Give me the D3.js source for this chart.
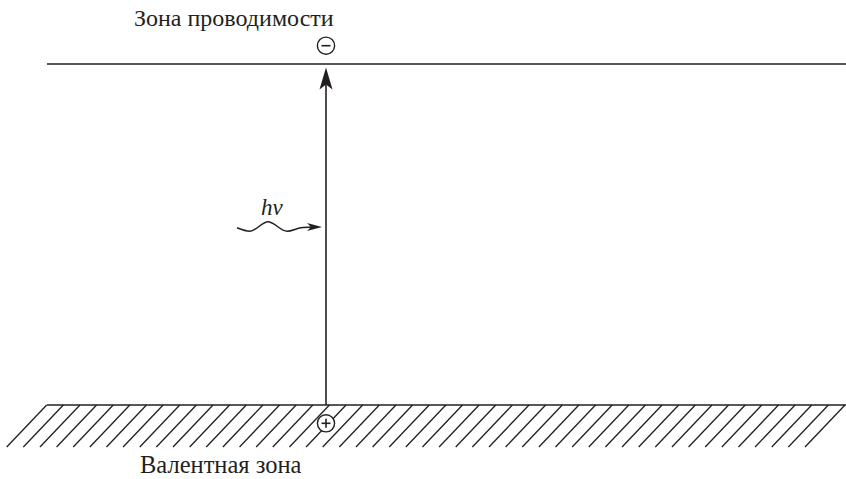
<!DOCTYPE html>
<html>
<head>
<meta charset="utf-8">
<script src="https://cdn.jsdelivr.net/npm/d3@7"></script>
<style>
  html, body { margin: 0; padding: 0; background: #fff; }
  svg { display: block; }
</style>
</head>
<body>
<svg id="chart" width="846" height="479"></svg>
<script>
// ---- data ----
const bandNames = ["Зона проводимости", "Валентная зона"];
const bandLevels = [1, 0];           // energy: conduction = 1, valence = 0
const carriers = ["−", "+"];         // electron at top, hole at bottom
const photonLabel = ["h", "ν"];
const hatchCount = 49;
// photon wave control points (x in diagram units, energy units)
const waveX = [237, 250, 268, 287, 301, 312];
const waveY = [0.5198, 0.5095, 0.5374, 0.5095, 0.5198, 0.5220];

const svg = d3.select("#chart");
const ink = "#231f20";
const serif = "'Liberation Serif', 'Times New Roman', Tinos, serif";

const x = d3.scaleLinear().domain([0, 846]).range([0, 846]);
const y = d3.scaleLinear().domain([0, 1]).range([405, 64]);

const xStart = 47, xEnd = 846, xTransition = 326;

// band lines
svg.selectAll("line.band").data(bandLevels).join("line")
  .attr("class", "band")
  .attr("x1", x(xStart)).attr("x2", x(xEnd))
  .attr("y1", d => y(d)).attr("y2", d => y(d))
  .attr("stroke", ink).attr("stroke-width", 1.5);

// hatching under valence band
const hatchStep = (845 - 46.7) / (hatchCount - 1);
const hatch = d3.range(hatchCount).map(i => 46.7 + i * hatchStep);
svg.selectAll("line.hatch").data(hatch).join("line")
  .attr("class", "hatch")
  .attr("x1", d => x(d)).attr("y1", y(0))
  .attr("x2", d => x(d - 40)).attr("y2", y(0) + 42)
  .attr("stroke", ink).attr("stroke-width", 1.3);

// vertical transition arrow
const tipY = y(1) + 3.5;
svg.append("line")
  .attr("x1", x(xTransition)).attr("x2", x(xTransition))
  .attr("y1", y(0)).attr("y2", tipY + 16)
  .attr("stroke", ink).attr("stroke-width", 1.6);
svg.append("path")
  .attr("d", `M${x(xTransition)},${tipY} L${x(xTransition) + 6.5},${tipY + 22} L${x(xTransition)},${tipY + 17} L${x(xTransition) - 6.5},${tipY + 22} Z`)
  .attr("fill", ink);

// carriers
const carrierY = [y(1) - 18.3, y(0) + 18.3];
carriers.forEach((c, i) => {
  const g = svg.append("g").attr("transform", `translate(${x(xTransition)},${carrierY[i]})`);
  g.append("circle").attr("r", 8.6).attr("fill", "#fff").attr("stroke", ink).attr("stroke-width", 1.4);
  g.append("line").attr("x1", -4.5).attr("x2", 4.5).attr("y1", 0).attr("y2", 0)
    .attr("stroke", ink).attr("stroke-width", 1.6);
  if (c === "+") {
    g.append("line").attr("x1", 0).attr("x2", 0).attr("y1", -4.5).attr("y2", 4.5)
      .attr("stroke", ink).attr("stroke-width", 1.6);
  }
});

// photon wave
const wavePts = waveX.map((d, i) => [x(d), y(waveY[i])]);
svg.append("path")
  .attr("d", d3.line().curve(d3.curveMonotoneX)(wavePts))
  .attr("fill", "none").attr("stroke", ink).attr("stroke-width", 1.5);
const wTipX = x(322), wY = y(waveY[waveY.length - 1]);
svg.append("path")
  .attr("d", `M${wTipX},${wY} L${wTipX - 15},${wY - 4} L${wTipX - 11},${wY} L${wTipX - 15},${wY + 4} Z`)
  .attr("fill", ink);

// photon label
const lbl = svg.append("text").attr("x", x(261)).attr("y", 215)
  .attr("font-family", serif).attr("fill", ink)
  .attr("font-size", 23).attr("font-style", "italic");
lbl.append("tspan").text(photonLabel[0]);
lbl.append("tspan").text(photonLabel[1]);

// band labels
svg.append("text").attr("x", x(134)).attr("y", 25.5)
  .attr("font-family", serif).attr("fill", ink).attr("font-size", 24)
  .text(bandNames[0]);
svg.append("text").attr("x", x(140)).attr("y", 473)
  .attr("font-family", serif).attr("fill", ink).attr("font-size", 24.5)
  .text(bandNames[1]);
</script>
</body>
</html>
